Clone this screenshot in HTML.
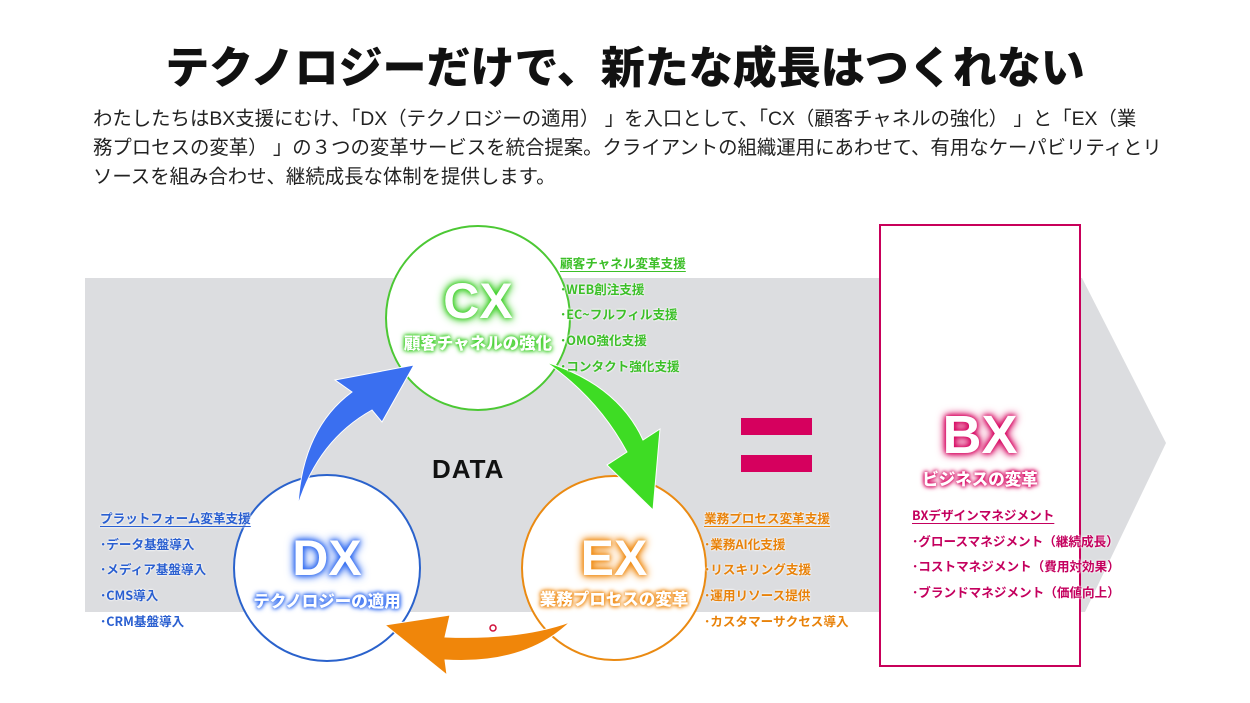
<!DOCTYPE html>
<html><head><meta charset="utf-8"><style>
*{margin:0;padding:0;box-sizing:border-box}
body{width:1250px;height:703px;background:#fff;position:relative;overflow:hidden;font-family:"Liberation Sans","Noto Sans CJK JP",sans-serif}
.a{position:absolute;white-space:nowrap}
h1{position:absolute;left:0;width:1250px;top:32px;text-align:center;font-size:44px;font-weight:900;color:#111;font-family:"Noto Sans CJK JP",sans-serif;letter-spacing:0px}
.p{position:absolute;left:93px;font-size:19.4px;color:#222;font-family:"Liberation Sans","Noto Sans CJK JP",sans-serif}
.lst{position:absolute;font-size:12.6px;font-weight:700;line-height:25.7px;font-family:"Noto Sans CJK JP",sans-serif;text-shadow:0 0 2px #fff,0 0 2px #fff}
.lst .h{text-decoration:underline;text-underline-offset:3px}
.big{position:absolute;text-align:center;font-family:"Liberation Sans",sans-serif;font-weight:900;color:#fff;line-height:1}
.sub{position:absolute;text-align:center;font-family:"Noto Sans CJK JP",sans-serif;font-weight:900;color:#fff;font-size:16.5px;line-height:1}
</style></head><body>
<svg width="1250" height="703" style="position:absolute;left:0;top:0">
<polygon points="85,278 1082,278 1166,443 1085,612 85,612" fill="#dcdde0"/>
<circle cx="478" cy="318" r="92" fill="#fff" stroke="#4cc834" stroke-width="2"/>
<circle cx="327" cy="568" r="93" fill="#fff" stroke="#2a62cc" stroke-width="2"/>
<circle cx="614" cy="568" r="92" fill="#fff" stroke="#ea8a12" stroke-width="2"/>
<path d="M298,505 Q303,428 352,392 L335,380 L414,365 L382,422 L372,410 Q318,440 298,505Z" fill="#3a6ff0" stroke="#fff" stroke-width="1"/>
<path d="M546,362 Q618,385 643,440 L660,429 L653,510 L607,465 L627,452 Q598,398 546,362Z" fill="#3edc24" stroke="#fff" stroke-width="1"/>
<path d="M385,625 L450,615 L445,637 Q520,640 570,622 Q525,665 445,660 L447,675Z" fill="#f0860a" stroke="#fff" stroke-width="1"/>
<circle cx="493" cy="628" r="3" fill="none" stroke="#d0103a" stroke-width="1.5"/>
<rect x="741" y="418" width="71" height="17" fill="#d6005e"/>
<rect x="741" y="455" width="71" height="17" fill="#d6005e"/>
<rect x="880" y="225" width="200" height="441" fill="#fff" stroke="#c8005a" stroke-width="2"/>
</svg>
<h1>テクノロジーだけで、新たな成長はつくれない</h1>
<div class="p a" style="top:102px">わたしたちはBX支援にむけ、「DX（テクノロジーの適用） 」を入口として、「CX（顧客チャネルの強化） 」と「EX（業</div>
<div class="p a" style="top:131px">務プロセスの変革） 」の３つの変革サービスを統合提案。クライアントの組織運用にあわせて、有用なケーパビリティとリ</div>
<div class="p a" style="top:160px">ソースを組み合わせ、継続成長な体制を提供します。</div>

<div class="big" style="left:398px;width:160px;top:276px;font-size:50px;text-shadow:0 0 4px #3ecf28,0 0 8px #3ecf28,0 0 10px #3ecf28">CX</div>
<div class="sub" style="left:378px;width:200px;top:334px;text-shadow:0 0 3px #3ecf28,0 0 5px #3ecf28,0 0 6px #3ecf28">顧客チャネルの強化</div>
<div class="big" style="left:247px;width:160px;top:533px;font-size:50px;text-shadow:0 0 4px #2f6af0,0 0 8px #2f6af0,0 0 10px #2f6af0">DX</div>
<div class="sub" style="left:227px;width:200px;top:592px;text-shadow:0 0 3px #2f6af0,0 0 5px #2f6af0,0 0 6px #2f6af0">テクノロジーの適用</div>
<div class="big" style="left:534px;width:160px;top:533px;font-size:50px;text-shadow:0 0 4px #f08a10,0 0 8px #f08a10,0 0 10px #f08a10">EX</div>
<div class="sub" style="left:514px;width:200px;top:590px;text-shadow:0 0 3px #f08a10,0 0 5px #f08a10,0 0 6px #f08a10">業務プロセスの変革</div>
<div class="big" style="left:900px;width:160px;top:408px;font-size:54px;text-shadow:0 0 4px #d6005e,0 0 8px #d6005e,0 0 10px #d6005e">BX</div>
<div class="sub" style="left:880px;width:200px;top:470px;text-shadow:0 0 3px #d6005e,0 0 5px #d6005e,0 0 6px #d6005e">ビジネスの変革</div>

<div class="a" style="left:432px;top:454px;font-size:26px;font-weight:900;color:#111;letter-spacing:1px">DATA</div>

<div class="lst" style="left:560px;top:250px;color:#3cbf28"><div class="h">顧客チャネル変革支援</div><div>･WEB創注支援</div><div>･EC~フルフィル支援</div><div>･OMO強化支援</div><div>･コンタクト強化支援</div></div>
<div class="lst" style="left:100px;top:505px;color:#2a5fd0"><div class="h">プラットフォーム変革支援</div><div>･データ基盤導入</div><div>･メディア基盤導入</div><div>･CMS導入</div><div>･CRM基盤導入</div></div>
<div class="lst" style="left:704px;top:505px;color:#e8820a"><div class="h">業務プロセス変革支援</div><div>･業務AI化支援</div><div>･リスキリング支援</div><div>･運用リソース提供</div><div>･カスタマーサクセス導入</div></div>
<div class="lst" style="left:912px;top:502px;color:#c4005e"><div class="h">BXデザインマネジメント</div><div>･グロースマネジメント（継続成長）</div><div>･コストマネジメント（費用対効果）</div><div>･ブランドマネジメント（価値向上）</div></div>
</body></html>
